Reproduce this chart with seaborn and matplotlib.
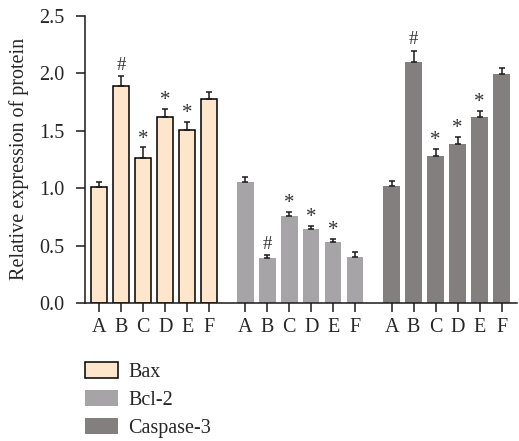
import numpy as np
import pandas as pd
import matplotlib
matplotlib.use("Agg")
import matplotlib.pyplot as plt
import seaborn as sns

# --- Data ---
groups = ["A", "B", "C", "D", "E", "F"]
proteins = ["Bax", "Bcl-2", "Caspase-3"]

bax_mean = [1.01, 1.89, 1.26, 1.62, 1.51, 1.78]
bax_err = [0.04, 0.085, 0.095, 0.07, 0.07, 0.055]
bcl2_mean = [1.05, 0.39, 0.76, 0.64, 0.53, 0.40]
bcl2_err = [0.05, 0.025, 0.035, 0.03, 0.03, 0.04]
casp3_mean = [1.02, 2.10, 1.28, 1.38, 1.62, 1.99]
casp3_err = [0.04, 0.095, 0.06, 0.065, 0.055, 0.06]

bax_marks = ["", "#", "*", "*", "*", ""]
bcl2_marks = ["", "#", "*", "*", "*", ""]
casp3_marks = ["", "#", "*", "*", "*", ""]

# --- Style ---
sns.set_style("ticks")
plt.rcParams["font.family"] = ["Liberation Serif", "DejaVu Serif"]
FS = 14.5

colors = {"Bax": "#fde6cb", "Bcl-2": "#a6a4a7", "Caspase-3": "#837f7e"}
edges = {"Bax": "black", "Bcl-2": "none", "Caspase-3": "none"}

means = {"Bax": bax_mean, "Bcl-2": bcl2_mean, "Caspase-3": casp3_mean}
errs = {"Bax": bax_err, "Bcl-2": bcl2_err, "Caspase-3": casp3_err}
marks = {"Bax": bax_marks, "Bcl-2": bcl2_marks, "Caspase-3": casp3_marks}

group_step = 6.65  # spacing between protein blocks on the x axis

fig = plt.figure(figsize=(5.19, 4.41), dpi=100)
ax = fig.add_axes([0.164, 0.313, 0.832, 0.651])

all_pos = []
all_labels = []
for k, prot in enumerate(proteins):
    pos = np.arange(len(groups)) + k * group_step
    df = pd.DataFrame({"pos": pos, "value": means[prot]})
    sns.barplot(data=df, x="pos", y="value", native_scale=True, ax=ax,
                color=colors[prot], edgecolor=edges[prot], linewidth=1.1,
                width=0.74, errorbar=None, label=prot, saturation=1)
    ax.errorbar(pos, means[prot], yerr=[np.zeros(len(pos)), errs[prot]],
                fmt="none", ecolor="#1a1a1a", elinewidth=1.1,
                capsize=2.4, capthick=1.1)
    for p, m, e, s in zip(pos, means[prot], errs[prot], marks[prot]):
        if s:
            ax.annotate(s, (p, m + e), xytext=(0, 8 if s == "#" else 6),
                        textcoords="offset points", ha="center", va="center",
                        fontsize=13.5 if s == "#" else 15, color="#333333")
    all_pos.extend(pos)
    all_labels.extend(groups)

if ax.get_legend() is not None:
    ax.get_legend().remove()

ax.set_xlim(-0.64, 19.0)
ax.set_ylim(0, 2.5)
ax.set_yticks([0, 0.5, 1.0, 1.5, 2.0, 2.5])
ax.set_yticklabels(["0.0", "0.5", "1.0", "1.5", "2.0", "2.5"])
ax.set_xticks(all_pos)
ax.set_xticklabels(all_labels)
ax.set_xlabel("")
ax.set_ylabel("Relative expression of protein", fontsize=FS, labelpad=7)
ax.tick_params(axis="both", labelsize=FS, length=6.5, width=1.1,
               color="#1a1a1a", direction="out")
ax.tick_params(axis="x", pad=4.2)
ax.tick_params(axis="y", pad=8.5)
for side in ["left", "bottom"]:
    ax.spines[side].set_linewidth(1.1)
    ax.spines[side].set_color("#1a1a1a")
sns.despine(ax=ax)

handles, labels = ax.get_legend_handles_labels()
fig.legend(handles, labels, loc="upper left",
           bbox_to_anchor=(85 / 519, 1 - 362 / 441), frameon=False,
           fontsize=FS, handlelength=1.65, handleheight=0.85,
           handletextpad=0.5, labelspacing=0.4, borderpad=0,
           borderaxespad=0)

fig.savefig("out.png", dpi=100)
